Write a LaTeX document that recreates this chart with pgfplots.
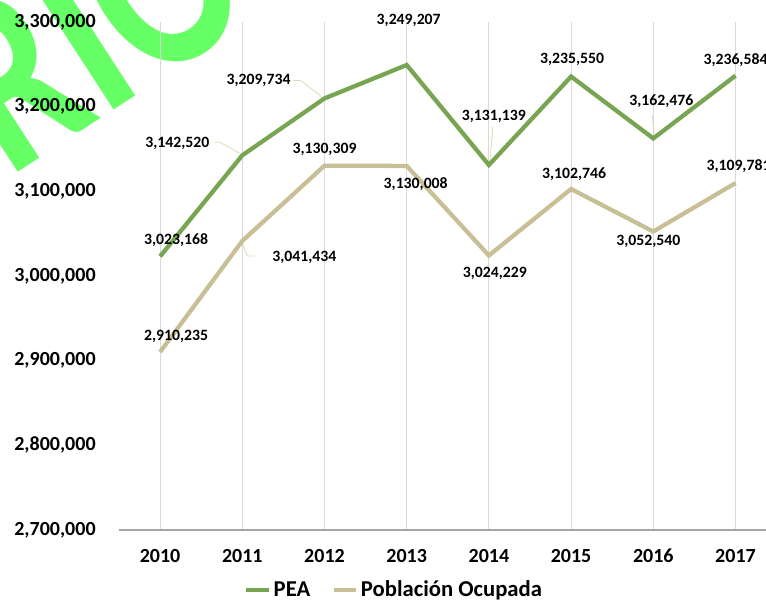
\documentclass[border=0pt]{standalone}
\usepackage{pgfplots}
\pgfplotsset{compat=1.18}
\usepackage{pgfplotstable}
\usepackage{fontspec}
\setmainfont{Carlito}
\definecolor{peagreen}{HTML}{77A552}
\definecolor{potan}{HTML}{C8BF96}
\definecolor{wmgreen}{HTML}{66FF66}
\definecolor{gridgray}{HTML}{D9D9D9}
\definecolor{leadc}{HTML}{D6DCB8}

\pgfplotstableread{
x y lab
0 3023168 3,023,168
1 3142520 3,142,520
2 3209734 3,209,734
3 3249207 3,249,207
4 3131139 3,131,139
5 3235550 3,235,550
6 3162476 3,162,476
7 3236584 3,236,584
}\pea

\pgfplotstableread{
x y lab
0 2910235 2,910,235
1 3041434 3,041,434
2 3130309 3,130,309
3 3130008 3,130,008
4 3024229 3,024,229
5 3102746 3,102,746
6 3052540 3,052,540
7 3109781 3,109,781
}\po

\pgfplotsset{
 labelled/.style={
  point meta=explicit symbolic,
  nodes near coords={\pgfplotspointmeta},
  every node near coord/.append style={anchor=center, inner sep=0pt, black,
    font=\fontsize{11.8}{14}\selectfont\bfseries}},
 pealabels/.style={
  coordinate style/.condition={\coordindex==0}{xshift=12pt,yshift=12pt},
  coordinate style/.condition={\coordindex==1}{xshift=-48.75pt,yshift=9pt},
  coordinate style/.condition={\coordindex==2}{xshift=-49.5pt,yshift=13.5pt},
  coordinate style/.condition={\coordindex==3}{xshift=1.5pt,yshift=33.5pt},
  coordinate style/.condition={\coordindex==4}{xshift=3.75pt,yshift=36.75pt},
  coordinate style/.condition={\coordindex==5}{xshift=0.75pt,yshift=12.75pt},
  coordinate style/.condition={\coordindex==6}{xshift=6pt,yshift=27.75pt},
  coordinate style/.condition={\coordindex==7}{xshift=0pt,yshift=12pt}},
 polabels/.style={
  coordinate style/.condition={\coordindex==0}{xshift=12pt,yshift=12pt},
  coordinate style/.condition={\coordindex==1}{xshift=46.5pt,yshift=-12pt},
  coordinate style/.condition={\coordindex==2}{xshift=0pt,yshift=12pt},
  coordinate style/.condition={\coordindex==3}{xshift=6.75pt,yshift=-13.5pt},
  coordinate style/.condition={\coordindex==4}{xshift=4.5pt,yshift=-13.5pt},
  coordinate style/.condition={\coordindex==5}{xshift=2.25pt,yshift=11.25pt},
  coordinate style/.condition={\coordindex==6}{xshift=-3.75pt,yshift=-7.5pt},
  coordinate style/.condition={\coordindex==7}{xshift=2.25pt,yshift=12.75pt}},
}

\begin{document}
\begin{tikzpicture}
\useasboundingbox (0pt,0pt) rectangle (574.5pt,452.25pt);
\clip (0pt,0pt) rectangle (574.5pt,452.25pt);
\begin{scope}[shift={(6pt,318pt)}, rotate=33, yscale=1.3]
\node[wmgreen, anchor=base east, inner sep=0, transform shape, font=\fontsize{150}{150}\selectfont\bfseries] at (0,0) {OBSERVATO};
\node[wmgreen, anchor=base west, inner sep=0, transform shape, font=\fontsize{150}{150}\selectfont\bfseries] at (0,0) {RIO LABORAL};
\end{scope}
\begin{axis}[
  at={(89.25pt,54.75pt)}, anchor=south west,
  scale only axis, width=493.2pt, height=381pt,
  xmin=-0.5, xmax=7.5, ymin=2700000, ymax=3300000,
  xtick={0,1,2,3,4,5,6,7},
  xticklabels={2010,2011,2012,2013,2014,2015,2016,2017},
  ytick={2700000,2800000,2900000,3000000,3100000,3200000,3300000},
  scaled y ticks=false,
  yticklabel style={/pgf/number format/fixed, /pgf/number format/precision=0, /pgf/number format/1000 sep={,}, /pgf/number format/assume math mode=true, anchor=east, xshift=-14pt},
  ticklabel style={font=\fontsize{15}{18}\selectfont\bfseries, black},
  xticklabel style={anchor=center, yshift=-19.5pt},
  major tick length=0pt,
  axis x line*=bottom, axis y line*=left,
  y axis line style={draw=none},
  x axis line style={draw=black!35, line width=0.9pt},
  xmajorgrids=true, ymajorgrids=false,
  grid style={gridgray, line width=0.75pt},
  clip=false,
  legend style={at={(0.419,-0.118)}, anchor=center, draw=none, fill=none,
    legend columns=-1, font=\fontsize{17}{20}\selectfont\bfseries,
    /tikz/every even column/.append style={column sep=14pt},
    legend cell align=left},
  legend image code/.code={\draw[#1, line width=3pt] (0pt,0pt) -- (17pt,0pt);},
]
\draw[leadc, line width=0.6pt] ([shift={(-21pt,9.75pt)}]axis cs:1,3142520) -- ([shift={(-16.5pt,9.75pt)}]axis cs:1,3142520) -- ([shift={(-2pt,1.5pt)}]axis cs:1,3142520);
\draw[leadc, line width=0.6pt] ([shift={(-23.25pt,13.5pt)}]axis cs:2,3209734) -- ([shift={(-18pt,13.5pt)}]axis cs:2,3209734) -- ([shift={(-1.5pt,0.75pt)}]axis cs:2,3209734);
\draw[leadc, line width=0.6pt] ([shift={(0pt,-1.5pt)}]axis cs:1,3041434) -- ([shift={(3.75pt,-11.25pt)}]axis cs:1,3041434) -- ([shift={(9pt,-11.25pt)}]axis cs:1,3041434);
\draw[leadc, line width=0.6pt] ([shift={(3pt,28.5pt)}]axis cs:4,3131139) -- ([shift={(0.75pt,2.25pt)}]axis cs:4,3131139);
\draw[leadc, line width=0.6pt] ([shift={(-0.75pt,17.25pt)}]axis cs:6,3162476) -- ([shift={(0.75pt,2.25pt)}]axis cs:6,3162476);
\addplot[peagreen, line width=3.2pt, no markers, labelled, pealabels, forget plot]
  table[x=x, y=y, meta=lab] {\pea};
\addplot[potan, line width=3.2pt, no markers, labelled, polabels, forget plot]
  table[x=x, y=y, meta=lab] {\po};
\addlegendimage{peagreen, line width=3pt}
\addlegendentry{PEA}
\addlegendimage{potan, line width=3pt}
\addlegendentry{Población Ocupada}
\end{axis}
\end{tikzpicture}
\end{document}
